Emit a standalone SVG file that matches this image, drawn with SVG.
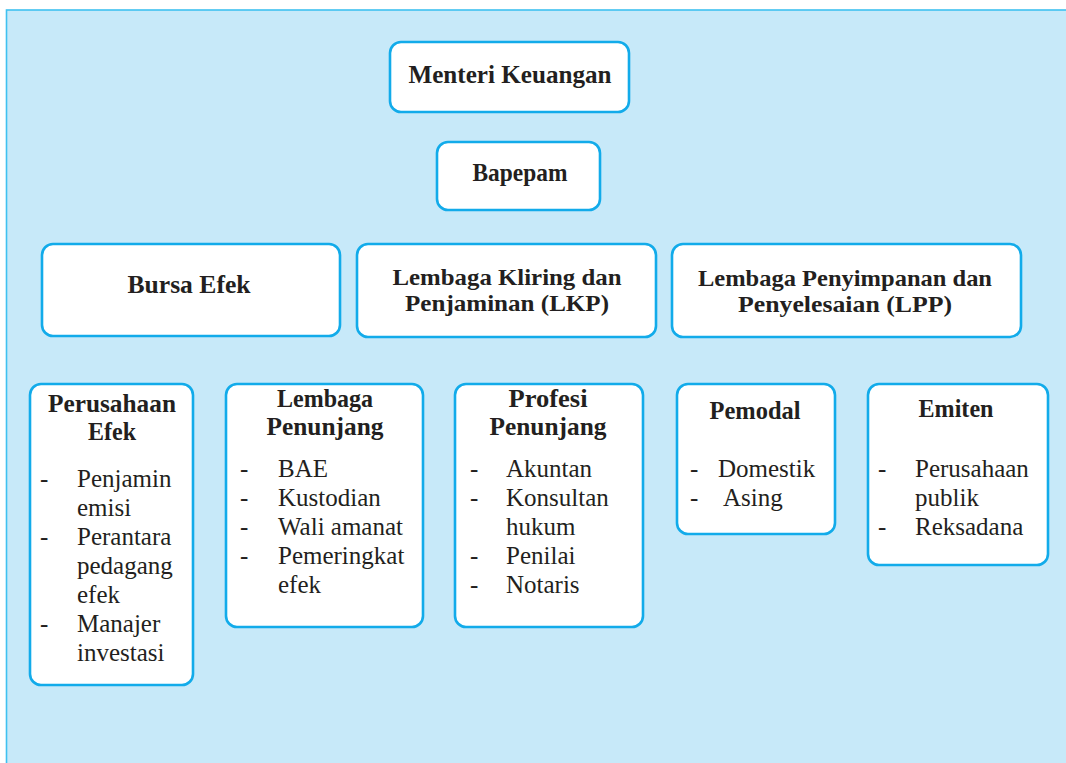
<svg xmlns="http://www.w3.org/2000/svg" width="1066" height="763" viewBox="0 0 1066 763">
<style>
.bg{fill:#c7e9f9;stroke:#3fc1f0;stroke-width:1.6}
.box{fill:#ffffff;stroke:#12abea;stroke-width:2.6}
.h{font-family:"Liberation Serif","Times New Roman",serif;font-weight:bold;font-size:26px;fill:#231f20;text-anchor:middle}
.h2{font-size:24px}
.t{font-family:"Liberation Serif","Times New Roman",serif;font-size:25px;fill:#231f20}
</style>
<rect width="1066" height="763" fill="#ffffff"/>
<rect class="bg" x="6.5" y="10" width="1070" height="770"/>
<g id="connectors"></g>
<g id="menteri">
<rect class="box" x="390" y="42" width="239" height="70" rx="11"/>
<text class="h" x="510" y="83" textLength="203" lengthAdjust="spacingAndGlyphs">Menteri Keuangan</text>
</g>
<g id="bapepam">
<rect class="box" x="437" y="142" width="163" height="68" rx="11"/>
<text class="h" x="520" y="181" textLength="95" lengthAdjust="spacingAndGlyphs">Bapepam</text>
</g>
<g id="bursa">
<rect class="box" x="42" y="244" width="298" height="92" rx="11"/>
<text class="h" x="189" y="293" textLength="123" lengthAdjust="spacingAndGlyphs">Bursa Efek</text>
</g>
<g id="lkp">
<rect class="box" x="357" y="244" width="299" height="93" rx="11"/>
<text class="h h2" x="507" y="285" textLength="229" lengthAdjust="spacingAndGlyphs">Lembaga Kliring dan</text>
<text class="h h2" x="507" y="311" textLength="204" lengthAdjust="spacingAndGlyphs">Penjaminan (LKP)</text>
</g>
<g id="lpp">
<rect class="box" x="672" y="244" width="349" height="93" rx="11"/>
<text class="h h2" x="845" y="286" textLength="294" lengthAdjust="spacingAndGlyphs">Lembaga Penyimpanan dan</text>
<text class="h h2" x="845" y="312" textLength="214" lengthAdjust="spacingAndGlyphs">Penyelesaian (LPP)</text>
</g>
<g id="perusahaan">
<rect class="box" x="30" y="384" width="163" height="301" rx="11"/>
<text class="h" x="112" y="412" textLength="128" lengthAdjust="spacingAndGlyphs">Perusahaan</text>
<text class="h" x="112" y="440" textLength="48" lengthAdjust="spacingAndGlyphs">Efek</text>
<text class="t" x="40" y="487">-</text><text class="t" x="77" y="487">Penjamin</text>
<text class="t" x="77" y="516">emisi</text>
<text class="t" x="40" y="545">-</text><text class="t" x="77" y="545">Perantara</text>
<text class="t" x="77" y="574">pedagang</text>
<text class="t" x="77" y="603">efek</text>
<text class="t" x="40" y="632">-</text><text class="t" x="77" y="632">Manajer</text>
<text class="t" x="77" y="661">investasi</text>
</g>
<g id="lembaga">
<rect class="box" x="226" y="384" width="197" height="243" rx="11"/>
<text class="h" x="325" y="407" textLength="96" lengthAdjust="spacingAndGlyphs">Lembaga</text>
<text class="h" x="325" y="435" textLength="117" lengthAdjust="spacingAndGlyphs">Penunjang</text>
<text class="t" x="240" y="477">-</text><text class="t" x="278" y="477">BAE</text>
<text class="t" x="240" y="506">-</text><text class="t" x="278" y="506">Kustodian</text>
<text class="t" x="240" y="535">-</text><text class="t" x="278" y="535">Wali amanat</text>
<text class="t" x="240" y="564">-</text><text class="t" x="278" y="564">Pemeringkat</text>
<text class="t" x="278" y="593">efek</text>
</g>
<g id="profesi">
<rect class="box" x="455" y="384" width="188" height="243" rx="11"/>
<text class="h" x="548" y="407" textLength="79" lengthAdjust="spacingAndGlyphs">Profesi</text>
<text class="h" x="548" y="435" textLength="117" lengthAdjust="spacingAndGlyphs">Penunjang</text>
<text class="t" x="470" y="477">-</text><text class="t" x="506" y="477">Akuntan</text>
<text class="t" x="470" y="506">-</text><text class="t" x="506" y="506">Konsultan</text>
<text class="t" x="506" y="535">hukum</text>
<text class="t" x="470" y="564">-</text><text class="t" x="506" y="564">Penilai</text>
<text class="t" x="470" y="593">-</text><text class="t" x="506" y="593">Notaris</text>
</g>
<g id="pemodal">
<rect class="box" x="677" y="384" width="158" height="150" rx="11"/>
<text class="h" x="755" y="419" textLength="91" lengthAdjust="spacingAndGlyphs">Pemodal</text>
<text class="t" x="690" y="477">-</text><text class="t" x="718" y="477">Domestik</text>
<text class="t" x="690" y="506">-</text><text class="t" x="723" y="506">Asing</text>
</g>
<g id="emiten">
<rect class="box" x="868" y="384" width="180" height="181" rx="11"/>
<text class="h" x="956" y="417" textLength="75" lengthAdjust="spacingAndGlyphs">Emiten</text>
<text class="t" x="878" y="477">-</text><text class="t" x="915" y="477">Perusahaan</text>
<text class="t" x="915" y="506">publik</text>
<text class="t" x="878" y="535">-</text><text class="t" x="915" y="535">Reksadana</text>
</g>
</svg>
